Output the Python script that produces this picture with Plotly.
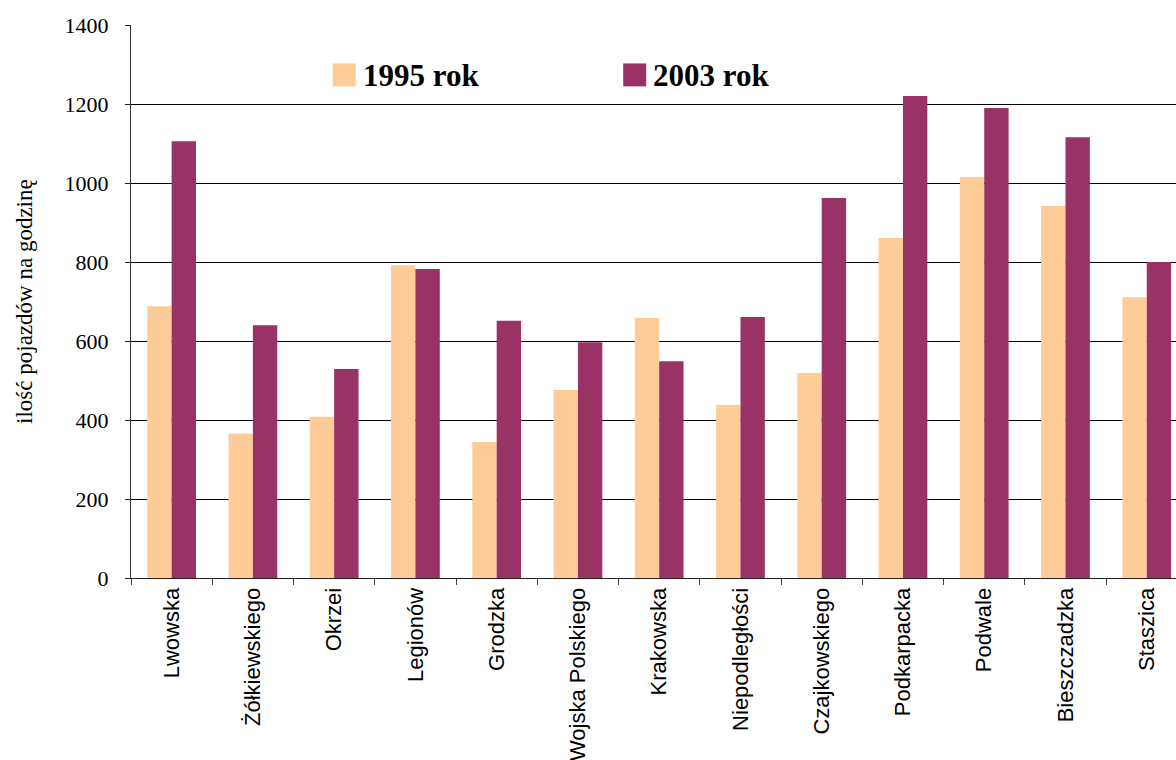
import plotly.graph_objects as go

streets = ["Lwowska", "Żółkiewskiego", "Okrzei", "Legionów", "Grodzka",
           "Wojska Polskiego", "Krakowska", "Niepodległości", "Czajkowskiego",
           "Podkarpacka", "Podwale", "Bieszczadzka", "Staszica"]
traffic_1995 = [688, 365, 408, 792, 344, 476, 658, 438, 519, 861, 1015, 942, 711]
traffic_2003 = [1106, 640, 529, 782, 651, 597, 549, 661, 962, 1220, 1190, 1116, 800]
y_ticks = [0, 200, 400, 600, 800, 1000, 1200, 1400]

series_names = ["1995 rok", "2003 rok"]
series_colors = ["#FFCC99", "#993366"]

fig = go.Figure()
for name, vals, col in zip(series_names, [traffic_1995, traffic_2003], series_colors):
    fig.add_trace(go.Bar(x=streets, y=vals, name=name, marker=dict(color=col, line=dict(width=0))))

fig.update_layout(
    width=1176, height=760,
    margin=dict(l=131, r=0, t=25, b=182),
    paper_bgcolor="white", plot_bgcolor="white",
    barmode="group", bargap=0.4, bargroupgap=0,
    showlegend=False,
)

fig.update_xaxes(
    type="category", range=[-0.5, 12.36], automargin=False,
    showline=True, linecolor="#222", linewidth=1,
    ticks="outside", tickson="boundaries", ticklen=6, tickcolor="#444",
    tickangle=-90, tickfont=dict(family="Liberation Sans", size=22, color="black"),
    showgrid=False,
)
fig.update_yaxes(
    range=[0, 1400], tickvals=y_ticks, automargin=False,
    showline=True, linecolor="#333", linewidth=1,
    ticks="outside", ticklen=5, tickcolor="#222",
    ticklabelstandoff=12,
    tickfont=dict(family="Liberation Serif", size=22, color="black"),
    showgrid=True, gridcolor="black", gridwidth=1,
    zeroline=False,
)

# Y axis title
fig.add_annotation(
    text="ilość pojazdów na godzinę", textangle=-90,
    xref="paper", yref="paper", x=-0.102, y=0.5,
    xanchor="center", yanchor="middle", showarrow=False,
    font=dict(family="Liberation Serif", size=23, color="black"),
)

# Legend drawn inside the plot area
legend_x = [0.193, 0.471]
for lx, name, col in zip(legend_x, series_names, series_colors):
    fig.add_shape(type="rect", xref="paper", yref="paper",
                  x0=lx, x1=lx + 0.022, y0=0.889, y1=0.9305,
                  fillcolor=col, line=dict(width=0))
    fig.add_annotation(text="<b>%s</b>" % name, xref="paper", yref="paper",
                       x=lx + 0.027, y=0.909, xanchor="left", yanchor="middle",
                       showarrow=False,
                       font=dict(family="Liberation Serif", size=31, color="black"))

fig.write_html("out.html")
